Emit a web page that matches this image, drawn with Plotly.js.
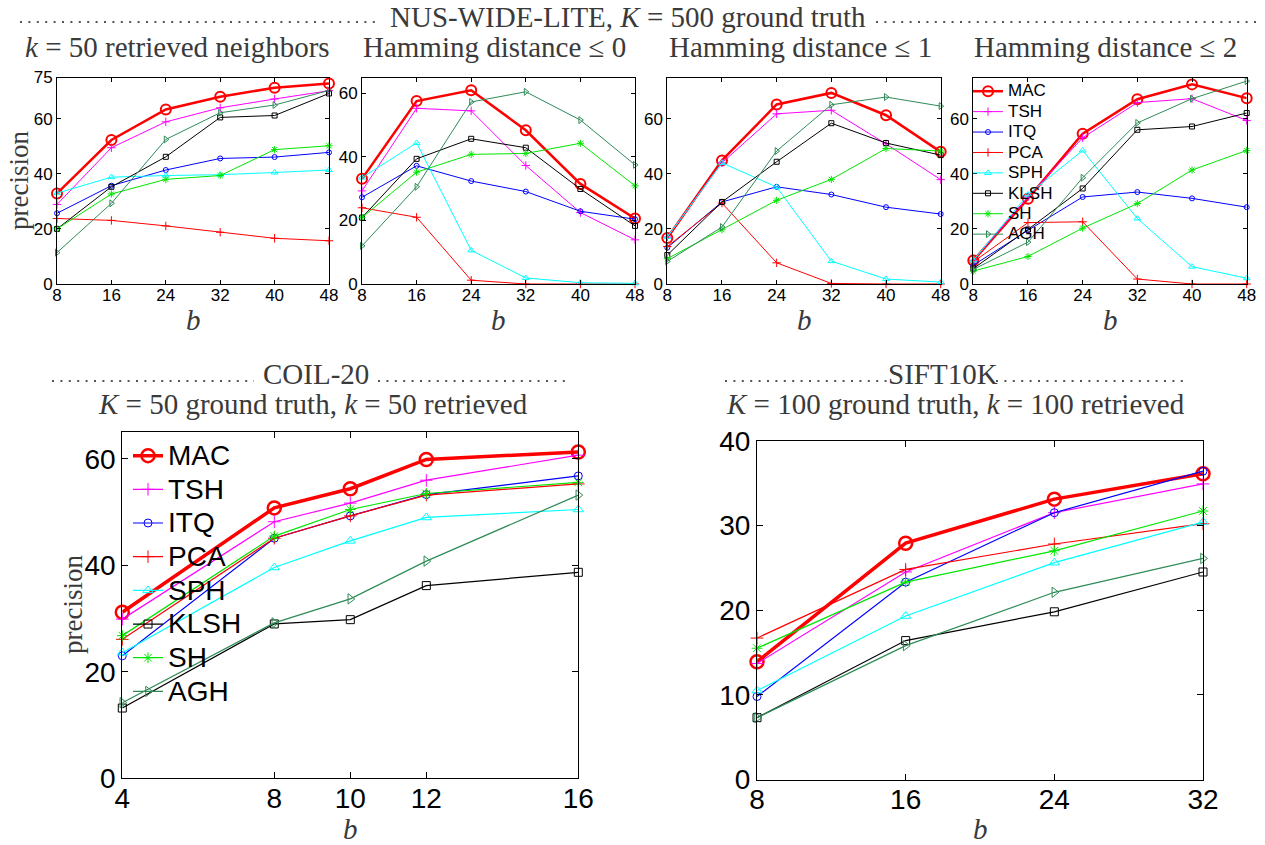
<!DOCTYPE html>
<html>
<head>
<meta charset="utf-8">
<script src="https://cdn.plot.ly/plotly-3.0.1.min.js"></script>
<style>
  html, body { margin: 0; padding: 0; background: #fff; }
  #chart { width: 1265px; height: 845px; }
</style>
</head>
<body>
<div id="chart"></div>
<script>
// Methods, in legend order
const methods = ['MAC', 'TSH', 'ITQ', 'PCA', 'SPH', 'KLSH', 'SH', 'AGH'];

// Code lengths (bits) on each x axis
const bitsNus = [8, 16, 24, 32, 40, 48];
const bitsCoil = [4, 8, 10, 12, 16];
const bitsSift = [8, 16, 24, 32];

// NUS-WIDE-LITE, K = 500 ground truth: precision (%), one row per method
const precKnn = [
  [32.9, 52.3, 63.4, 68.0, 71.3, 72.8],
  [28.9, 49.5, 58.9, 64.0, 67.2, 70.2],
  [25.7, 35.7, 41.4, 45.6, 46.1, 47.8],
  [23.8, 23.1, 21.1, 18.8, 16.6, 15.7],
  [33.0, 38.8, 39.4, 39.7, 40.5, 41.4],
  [20.0, 35.3, 46.2, 60.5, 61.2, 69.2],
  [20.0, 32.7, 38.0, 39.4, 48.8, 50.2],
  [11.4, 29.3, 52.5, 62.2, 65.0, 70.3]
];
const precHam0 = [
  [33.1, 57.6, 61.0, 48.4, 31.5, 20.6],
  [29.3, 55.3, 54.5, 37.3, 22.5, 13.9],
  [27.3, 37.2, 32.4, 29.1, 22.9, 20.4],
  [24.0, 21.0, 1.2, 0, 0, 0],
  [33.5, 44.4, 10.6, 1.9, 0.4, 0.2],
  [20.9, 39.4, 45.7, 42.9, 29.9, 18.3],
  [20.9, 35.2, 40.8, 41.1, 44.3, 30.9],
  [12.0, 30.6, 57.3, 60.5, 51.6, 37.5]
];
const precHam1 = [
  [16.7, 44.9, 65.2, 69.4, 61.3, 48.0],
  [17.1, 44.0, 61.8, 63.1, 50.9, 37.9],
  [13.2, 29.8, 35.3, 32.5, 27.9, 25.4],
  [13.6, 29.4, 7.7, 0.2, 0, 0],
  [17.1, 44.0, 35.2, 8.3, 1.8, 0.7],
  [10.5, 29.8, 44.4, 58.4, 51.2, 46.8],
  [9.2, 19.7, 30.4, 38.0, 49.2, 48.3],
  [8.2, 20.7, 48.3, 65.1, 67.9, 64.6]
];
const precHam2 = [
  [8.5, 31.0, 54.6, 67.1, 72.5, 67.5],
  [8.6, 31.6, 53.1, 65.9, 67.3, 59.4],
  [6.8, 19.5, 31.6, 33.4, 31.1, 27.9],
  [8.0, 22.3, 22.6, 1.8, 0, 0],
  [8.6, 32.5, 48.5, 23.8, 6.3, 2.1],
  [5.6, 19.8, 34.7, 56.0, 57.2, 62.1],
  [4.7, 10.0, 20.3, 29.2, 41.4, 48.5],
  [5.3, 15.2, 38.6, 58.5, 67.3, 73.7]
];
// COIL-20, K = 50 ground truth, k = 50 retrieved
const precCoil = [
  [31.2, 50.8, 54.4, 59.9, 61.3],
  [29.9, 48.2, 51.7, 56.0, 60.7],
  [23.0, 45.1, 49.3, 53.3, 56.8],
  [26.1, 45.1, 49.3, 53.2, 55.3],
  [23.6, 39.6, 44.6, 49.0, 50.5],
  [13.2, 29.0, 29.8, 36.2, 38.7],
  [26.8, 45.5, 50.5, 53.5, 55.6],
  [14.2, 29.2, 33.7, 40.8, 53.2]
];
// SIFT10K, K = 100 ground truth, k = 100 retrieved
const precSift = [
  [13.9, 27.9, 33.1, 36.1],
  [13.7, 24.5, 31.5, 34.9],
  [9.8, 23.3, 31.5, 36.4],
  [16.7, 24.8, 27.8, 30.2],
  [10.5, 19.3, 25.6, 30.4],
  [7.3, 16.4, 19.8, 24.5],
  [15.5, 23.3, 27.0, 31.7],
  [7.3, 15.8, 22.1, 26.1]
];

// Tick values
const yTicksKnn = [0, 20, 40, 60, 75];
const yTicksHam = [0, 20, 40, 60];
const yTicksCoil = [0, 20, 40, 60];
const yTicksSift = [0, 10, 20, 30, 40];

// Line / marker style per method
const styles = {
  MAC:  { color: '#ff0000', symbol: 'circle-open' },
  TSH:  { color: '#ff00ff', symbol: 'cross-thin-open' },
  ITQ:  { color: '#0000ff', symbol: 'circle-open' },
  PCA:  { color: '#ff0000', symbol: 'cross-thin-open' },
  SPH:  { color: '#00ffff', symbol: 'triangle-up-open' },
  KLSH: { color: '#000000', symbol: 'square-open' },
  SH:   { color: '#00e600', symbol: 'asterisk-open' },
  AGH:  { color: '#2e8b57', symbol: 'triangle-right-open' }
};

const W = 1265, H = 845;
const px = v => v / W;
const py = v => 1 - v / H;

const SANS = 'Liberation Sans, Arial, Helvetica, sans-serif';
const SERIF = 'Liberation Serif, Times New Roman, serif';
const TITLE_COLOR = '#3a3a3a';

// Build one panel's traces
function panelTraces(bits, rows, axisId, big, legendName, legendPx) {
  return methods.map((m, i) => {
    const s = styles[m];
    const isMac = m === 'MAC';
    const base = big ? 9 : 6;
    let size = isMac ? (big ? 13 : 10) : base;
    if (m === 'ITQ' || m === 'KLSH') size = big ? 8 : 5;
    const t = {
      type: 'scatter',
      mode: 'lines+markers',
      x: bits,
      y: rows[i],
      xaxis: 'x' + axisId,
      yaxis: 'y' + axisId,
      name: legendName ? '<span style="font-size:' + legendPx + 'px">' + m + '</span>' : m,
      line: { color: s.color, width: isMac ? (big ? 3.5 : 2.5) : (big ? 1.2 : 1) },
      marker: {
        symbol: s.symbol,
        size: size,
        color: s.color,
        line: { color: s.color, width: isMac ? (big ? 2.5 : 2) : 1 }
      },
      cliponaxis: false,
      showlegend: !!legendName,
      hoverinfo: 'x+y+name'
    };
    if (legendName) t.legend = legendName;
    return t;
  });
}

const data = [].concat(
  panelTraces(bitsNus, precKnn, '', false, null),
  panelTraces(bitsNus, precHam0, '2', false, null),
  panelTraces(bitsNus, precHam1, '3', false, null),
  panelTraces(bitsNus, precHam2, '4', false, 'legend', 17),
  panelTraces(bitsCoil, precCoil, '5', true, 'legend2', 28),
  panelTraces(bitsSift, precSift, '6', true, null)
);

function axis(domain, range, tickvals, fontSize, ticklen, standoff) {
  return {
    domain: domain,
    range: range,
    tickmode: 'array',
    tickvals: tickvals,
    ticks: 'inside',
    ticklen: ticklen,
    tickwidth: 1,
    tickcolor: '#000',
    showline: true,
    linecolor: '#000',
    linewidth: 1,
    mirror: 'ticks',
    showgrid: false,
    zeroline: false,
    fixedrange: true,
    ticklabelstandoff: standoff || 0,
    tickfont: { family: SANS, size: fontSize, color: '#000' }
  };
}

const topY = [py(284), py(77.5)];
const layout = {
  width: W,
  height: H,
  margin: { l: 0, r: 0, t: 0, b: 0 },
  paper_bgcolor: '#fff',
  plot_bgcolor: '#fff',
  font: { family: SANS, color: '#000' },

  xaxis:  Object.assign(axis([px(57), px(329)], [8, 48], bitsNus, 17, 4, -4), { anchor: 'y' }),
  yaxis:  Object.assign(axis(topY, [0, 75], yTicksKnn, 17, 4), { anchor: 'x' }),
  xaxis2: Object.assign(axis([px(362), px(635)], [8, 48], bitsNus, 17, 4, -4), { anchor: 'y2' }),
  yaxis2: Object.assign(axis(topY, [0, 65], yTicksHam, 17, 4), { anchor: 'x2' }),
  xaxis3: Object.assign(axis([px(667.3), px(940.7)], [8, 48], bitsNus, 17, 4, -4), { anchor: 'y3' }),
  yaxis3: Object.assign(axis(topY, [0, 75], yTicksHam, 17, 4), { anchor: 'x3' }),
  xaxis4: Object.assign(axis([px(973.3), px(1246.7)], [8, 48], bitsNus, 17, 4, -4), { anchor: 'y4' }),
  yaxis4: Object.assign(axis(topY, [0, 75], yTicksHam, 17, 4), { anchor: 'x4' }),
  xaxis5: Object.assign(axis([px(122.3), px(578.3)], [4, 16], bitsCoil, 28, 6, -5), { anchor: 'y5' }),
  yaxis5: Object.assign(axis([py(778.3), py(432.3)], [0, 65], yTicksCoil, 28, 6), { anchor: 'x5' }),
  xaxis6: Object.assign(axis([px(757), px(1203)], [8, 32], bitsSift, 28, 6, -5), { anchor: 'y6' }),
  yaxis6: Object.assign(axis([py(779.5), py(440.7)], [0, 40], yTicksSift, 28, 6), { anchor: 'x6' }),

  legend: {
    x: px(968), y: py(76), xanchor: 'left', yanchor: 'top',
    bgcolor: 'rgba(0,0,0,0)', borderwidth: 0,
    font: { family: SANS, size: 13.4, color: '#000' },
    itemwidth: 30, tracegroupgap: 0
  },
  legend2: {
    x: px(128), y: py(433.8), xanchor: 'left', yanchor: 'top',
    bgcolor: 'rgba(0,0,0,0)', borderwidth: 0,
    font: { family: SANS, size: 23.6, color: '#000' },
    itemwidth: 30, tracegroupgap: 0
  },

  shapes: [],
  annotations: []
};

// Dotted leaders on either side of the dataset names
function leader(x0, x1, y) {
  return {
    type: 'line', xref: 'paper', yref: 'paper',
    x0: px(x0), x1: px(x1), y0: py(y), y1: py(y),
    line: { color: '#555', width: 2, dash: '2px,6.4px' }
  };
}
layout.shapes.push(
  leader(20, 380, 22), leader(876, 1258, 22),
  leader(52, 254, 381), leader(378, 566, 381),
  leader(725, 890, 381), leader(996, 1185, 381)
);

function label(text, x, y, size, opts) {
  return Object.assign({
    text: text, xref: 'paper', yref: 'paper',
    x: px(x), y: py(y), xanchor: 'center', yanchor: 'middle',
    showarrow: false,
    font: { family: SERIF, size: size, color: TITLE_COLOR }
  }, opts || {});
}

layout.annotations.push(
  label('NUS-WIDE-LITE, <i>K</i> = 500 ground truth', 628, 17, 29),
  label('<i>k</i> = 50 retrieved neighbors', 177, 47, 29),
  label('Hamming distance ≤ 0', 494, 47, 29),
  label('Hamming distance ≤ 1', 800, 47, 29),
  label('Hamming distance ≤ 2', 1105, 47, 29),
  label('COIL-20', 316, 374, 29),
  label('<i>K</i> = 50 ground truth, <i>k</i> = 50 retrieved', 313, 404, 29),
  label('SIFT10K', 943, 374, 29),
  label('<i>K</i> = 100 ground truth, <i>k</i> = 100 retrieved', 955, 404, 29),
  // axis titles
  label('precision', 19, 181, 27, { textangle: -90 }),
  label('precision', 73, 605, 27, { textangle: -90 }),
  label('<i>b</i>', 193, 320, 29),
  label('<i>b</i>', 498.5, 320, 29),
  label('<i>b</i>', 804, 320, 29),
  label('<i>b</i>', 1110, 320, 29),
  label('<i>b</i>', 350, 829, 29),
  label('<i>b</i>', 980, 829, 29)
);

Plotly.newPlot('chart', data, layout, { displayModeBar: false, responsive: false });
</script>
</body>
</html>
